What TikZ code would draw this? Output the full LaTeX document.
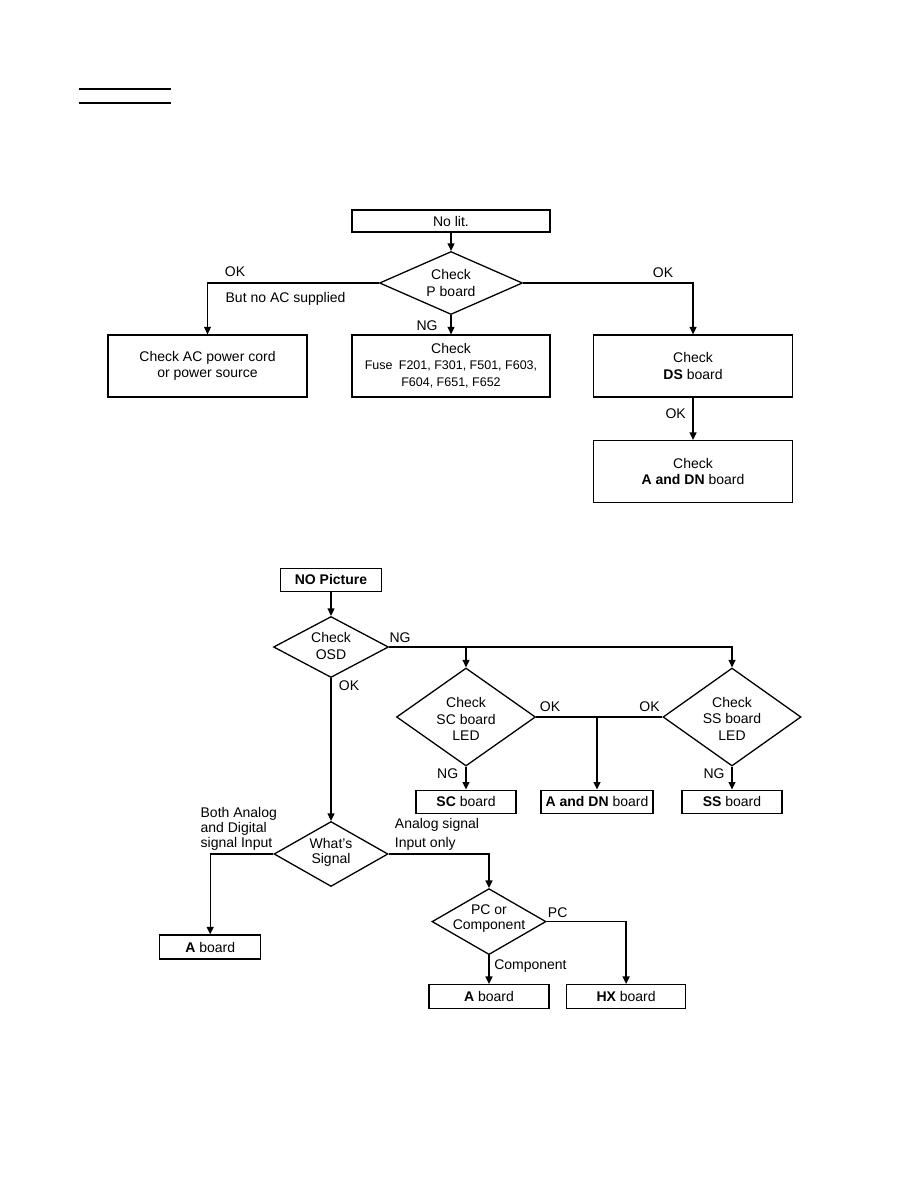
\documentclass[tikz,border=0pt]{standalone}
\usepackage{fontspec}
\setmainfont{Liberation Sans}
\usetikzlibrary{shapes.geometric,arrows.meta}
\begin{document}
\begin{tikzpicture}[x=1pt,y=-1pt,line width=1.3pt,
  box/.style={draw,rectangle,inner sep=0pt,align=center,font=\fontsize{14}{16.7}\selectfont},
  dia/.style={draw,diamond,inner sep=0pt},
  txt/.style={inner sep=0pt,align=center,font=\fontsize{14}{16.7}\selectfont},
  txtb/.style={inner sep=0pt,align=center,font=\fontsize{14}{15}\selectfont},
  lbl/.style={inner sep=0pt,font=\fontsize{14}{16}\selectfont},
  arr/.style={-{Triangle[length=7.5pt,width=7pt]}}]
\useasboundingbox (0,0) rectangle (918,1188);
\fill[white] (0,0) rectangle (918,1188);

% heading rules
\draw (79,89) -- (171,89);
\draw (79,103) -- (171,103);

% ---------- top chart ----------
\node[box,minimum width=198pt,minimum height=22pt] (nolit) at (451,221) {No lit.};
\node[dia,minimum width=143pt,minimum height=63pt] (pdia) at (451,283) {};
\node[txt] (pdiat) at (451,283) {Check\\P board};
\node[box,minimum width=199pt,minimum height=62pt] (ac) at (207.5,366) {Check AC power cord\\or power source};
\node[box,minimum width=198pt,minimum height=62pt] (fuse) at (451,366) {};
\node[txt,font=\fontsize{12.5}{16.3}\selectfont] (fuset) at (451,365.5) {{\fontsize{14}{16}\selectfont Check}\\Fuse\hspace{0.5em}F201, F301, F501, F603,\\F604, F651, F652};
\node[box,minimum width=199pt,minimum height=62pt] (ds) at (693,366) {Check\\\textbf{DS} board};
\node[box,minimum width=199pt,minimum height=62pt] (adn) at (693,471.5) {Check\\\textbf{A and DN} board};

\draw[arr] (nolit.south) -- (pdia.north);
\draw[arr] (pdia.west) -| (ac.north);
\draw[arr] (pdia.south) -- (fuse.north);
\draw[arr] (pdia.east) -| (ds.north);
\draw[arr] (ds.south) -- (adn.north);

\node[lbl] (l1) at (235,272) {OK};
\node[lbl,anchor=west] (l2) at (225,299) {But no AC supplied};
\node[lbl] (l3) at (427,326) {NG};
\node[lbl] (l4) at (663,272.5) {OK};
\node[lbl] (l5) at (675.7,413.3) {OK};

% ---------- bottom chart ----------
\node[box,minimum width=101pt,minimum height=23pt] (nopic) at (331,579.7) {\textbf{NO Picture}};
\node[dia,minimum width=115pt,minimum height=61pt] (osd) at (331,647) {};
\node[txt] (osdt) at (331,646) {Check\\OSD};
\node[dia,minimum width=139pt,minimum height=98pt] (scdia) at (466,717) {};
\node[txt] (scdiat) at (466,719) {Check\\SC board\\LED};
\node[dia,minimum width=138pt,minimum height=98pt] (ssdia) at (732,717) {};
\node[txt] (ssdiat) at (732,718.7) {Check\\SS board\\LED};
\node[box,minimum width=100pt,minimum height=23pt] (scbox) at (466,801.7) {\textbf{SC} board};
\node[box,minimum width=112pt,minimum height=23pt] (adnbox) at (597,801.7) {\textbf{A and DN} board};
\node[box,minimum width=100pt,minimum height=23pt] (ssbox) at (732,801.7) {\textbf{SS} board};
\node[dia,minimum width=114pt,minimum height=65pt] (what) at (331,854) {};
\node[txtb] (whatt) at (331,852.7) {What's\\Signal};
\node[box,minimum width=101pt,minimum height=24pt] (abox1) at (210.2,947) {\textbf{A} board};
\node[dia,minimum width=114pt,minimum height=66pt] (pcdia) at (489,921.6) {};
\node[txtb] (pcdiat) at (489,918.2) {PC or\\Component};
\node[box,minimum width=120pt,minimum height=23.6pt] (abox2) at (489,996.4) {\textbf{A} board};
\node[box,minimum width=118.6pt,minimum height=23.6pt] (hx) at (626.1,996.4) {\textbf{HX} board};

\draw[arr] (nopic.south) -- (osd.north);
\draw[arr] (osd.east) -| (scdia.north);
\draw[arr] (osd.east) -| (ssdia.north);
\draw[arr] (scdia.south) -- (scbox.north);
\draw[arr] (ssdia.south) -- (ssbox.north);
\draw (scdia.east) -- (ssdia.west);
\coordinate (jn) at (adnbox.north |- scdia.east);
\draw[arr] (jn) -- (adnbox.north);
\draw[arr] (osd.south) -- (what.north);
\draw[arr] (what.west) -| (abox1.north);
\draw[arr] (what.east) -| (pcdia.north);
\draw[arr] (pcdia.south) -- (abox2.north);
\draw[arr] (pcdia.east) -| (hx.north);

\node[lbl] (m1) at (400,637.7) {NG};
\node[lbl] (m2) at (349,685.7) {OK};
\node[lbl] (m3) at (550,706.7) {OK};
\node[lbl] (m4) at (649.5,706.7) {OK};
\node[lbl] (m5) at (447.7,773.3) {NG};
\node[lbl] (m6) at (714,773.3) {NG};
\node[txtb,align=left,anchor=west] (m7) at (200,828.6) {Both Analog\\and Digital\\signal Input};
\node[txt,align=left,anchor=west,font=\fontsize{14}{18.4}\selectfont] (m8) at (394.3,834.3) {Analog signal\\Input only};
\node[lbl] (m9) at (557.7,912.9) {PC};
\node[lbl,anchor=west] (m10) at (493.6,966) {Component};
\end{tikzpicture}
\end{document}
